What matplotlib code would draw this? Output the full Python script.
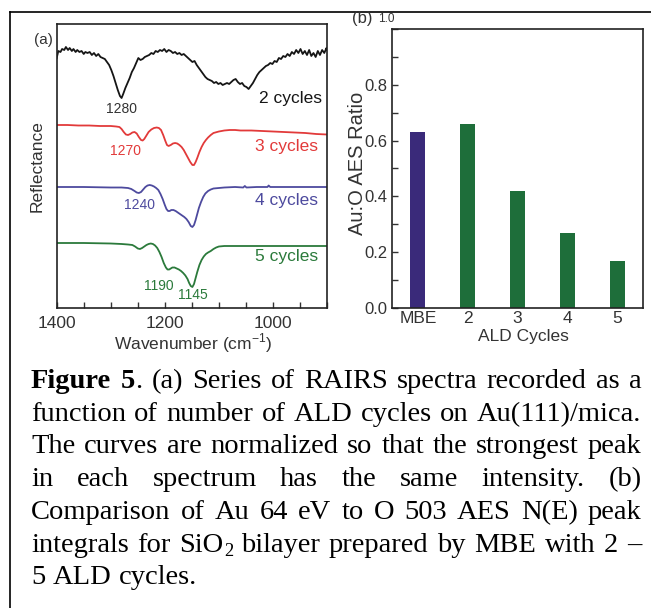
import matplotlib
matplotlib.use('Agg')
import matplotlib.pyplot as plt
from matplotlib.ticker import MultipleLocator, FixedLocator, FormatStrFormatter
from matplotlib.lines import Line2D
from matplotlib.transforms import IdentityTransform, ScaledTranslation

W, H = 651, 608
SANS = 'Liberation Sans'
SERIF = 'Liberation Serif'
plt.rcParams['font.family'] = [SANS, 'DejaVu Sans']
plt.rcParams['mathtext.fontset'] = 'custom'
plt.rcParams['mathtext.rm'] = SANS

# ---------------- data: panel (a) RAIRS spectra (reflectance, a.u., offset) -------------
wn_2 = [1400, 1397, 1393, 1390, 1386, 1383, 1379, 1376, 1372, 1369, 1365, 1362, 1358, 1354,
        1350, 1347, 1343, 1339, 1335, 1331, 1327, 1323, 1319, 1315, 1311, 1307, 1303, 1299,
        1295, 1291, 1287, 1283, 1280, 1277, 1273, 1269, 1265, 1261, 1257, 1253, 1249, 1245,
        1241, 1237, 1233, 1229, 1225, 1221, 1217, 1213, 1209, 1205, 1201, 1197, 1193, 1189,
        1185, 1181, 1177, 1173, 1169, 1165, 1161, 1157, 1153, 1149, 1145, 1141, 1137, 1133,
        1129, 1125, 1121, 1117, 1113, 1109, 1105, 1101, 1097, 1093, 1089, 1085, 1081, 1077,
        1073, 1069, 1065, 1061, 1057, 1053, 1049, 1045, 1041, 1037, 1033, 1029, 1025, 1021,
        1017, 1013, 1009, 1005, 1001, 997, 993, 989, 985, 981, 977, 973, 969, 965, 961, 957,
        953, 949, 945, 941, 937, 933, 929, 925, 921, 917, 913, 909, 905, 901, 900]
r_2 = [250, 257, 256, 259, 258, 261, 258, 260, 257, 259, 256, 258, 256, 257,
       254, 256, 255, 256, 253, 255, 252, 254, 251, 250, 249, 246, 243, 238,
       232, 225, 218, 212, 210, 214, 220, 225, 230, 236, 240, 245, 250, 248,
       249, 251, 252, 253, 255, 254, 257, 256, 258, 257, 259, 256, 258, 257,
       255, 256, 254, 255, 253, 254, 252, 250, 248, 246, 247, 243, 240, 237,
       234, 231, 229, 228, 227, 225, 226, 224, 225, 223, 224, 225, 224, 226,
       228, 229, 226, 224, 225, 222, 221, 219, 222, 225, 229, 233, 236, 238,
       240, 242, 243, 245, 244, 247, 246, 250, 249, 252, 251, 254, 252, 256, 254, 258,
       255, 259, 254, 257, 253, 258, 252, 255, 251, 257, 253, 258, 255, 260, 258]

wn_3 = [1400, 1380, 1360, 1340, 1320, 1300, 1290, 1284, 1280, 1276, 1272, 1268, 1264, 1260,
        1256, 1252, 1248, 1244, 1241, 1238, 1234, 1230, 1225, 1220, 1215, 1211, 1207, 1203,
        1199, 1196, 1193, 1189, 1185, 1181, 1177, 1173, 1169, 1165, 1161, 1157, 1153, 1149,
        1146, 1143, 1140, 1136, 1132, 1128, 1124, 1120, 1115, 1110, 1100, 1090, 1080, 1070,
        1060, 1040, 1020, 1000, 980, 960, 940, 920, 900]
r_3 = [183, 183, 182.5, 182.5, 182, 182, 181.5, 181, 179, 176, 173.5, 173, 174, 175.5,
       176, 174.5, 171, 168, 167.5, 169, 172.5, 176, 178.5, 180, 180.5, 180, 178, 173,
       167, 163, 162, 163, 164.5, 165, 164.5, 163, 161, 158, 154, 150, 146, 143,
       143, 146, 150, 156, 161, 165, 168, 170.5, 173, 175, 176.5, 177.5, 178, 178,
       177.5, 177.5, 177, 176.5, 176, 175.5, 175, 174, 173.5]

wn_4 = [1400, 1350, 1300, 1280, 1268, 1262, 1256, 1252, 1248, 1244, 1240, 1236, 1232, 1228,
        1224, 1220, 1216, 1212, 1208, 1204, 1200, 1197, 1194, 1191, 1188, 1184, 1180, 1176,
        1172, 1168, 1164, 1160, 1156, 1152, 1149, 1146, 1143, 1140, 1137, 1133, 1129, 1125,
        1120, 1115, 1110, 1100, 1090, 1070, 1055, 1052, 1049, 1030, 1010, 1008, 1005, 1000,
        950, 900]
r_4 = [121, 121, 120.5, 120.5, 120, 119, 117, 115.5, 115, 116, 118.5, 121, 122.5, 123,
       122.5, 121.5, 120, 118, 114, 109, 103, 99, 97, 97, 98, 98, 97, 95.5,
       94, 92.5, 91, 89, 86, 82, 81, 83, 88, 94, 100, 106, 111, 114.5,
       117, 118.5, 119.5, 120, 120.5, 121, 120.5, 122, 120.5, 121, 121, 122.5, 121, 121,
       121, 121]

wn_5 = [1400, 1350, 1300, 1280, 1268, 1260, 1255, 1250, 1246, 1242, 1238, 1234, 1230, 1226,
        1222, 1218, 1214, 1210, 1206, 1202, 1198, 1195, 1192, 1189, 1186, 1182, 1178, 1174,
        1170, 1166, 1162, 1158, 1155, 1152, 1149, 1146, 1143, 1140, 1136, 1132, 1128, 1124,
        1120, 1115, 1110, 1105, 1100, 1090, 1050, 1000, 950, 900]
r_5 = [65, 65, 64.5, 64, 63.5, 63, 61.5, 59.5, 59, 60, 61.5, 63, 64, 64.5,
       64, 62.5, 60, 56, 51, 45, 40.5, 38.5, 38.5, 39.5, 40.5, 40.5, 39.5, 38.5,
       37, 35, 32.5, 29, 25, 22, 21, 24, 30, 36, 43, 48, 51.5, 54,
       55.5, 57, 59, 60.5, 61.5, 62, 62, 62, 62, 62]

series_names = ['2 cycles', '3 cycles', '4 cycles', '5 cycles']
peak_labels = ['1280', '1270', '1240', '1190', '1145']
xticks_a = [1400, 1200, 1000]

# ---------------- data: panel (b) AES ratio -------------
bar_cats = ['MBE', '2', '3', '4', '5']
bar_vals = [0.63, 0.66, 0.42, 0.27, 0.17]

# ---------------- styles -------------
c_black = '#151515'
c_red = '#e23a3a'
c_blue = '#4d4a9e'
c_green = '#2b7a3b'
c_text = '#333333'
c_bar_mbe = '#3a2a7a'
c_bar_ald = '#1e6e3a'

fig = plt.figure(figsize=(W / 100, H / 100), dpi=100)

def px_axes(l, t, r, b):
    return fig.add_axes([l / W, 1 - b / H, (r - l) / W, (b - t) / H])

# ---------------- panel (a) -------------
ax = px_axes(56.7, 24, 327, 308)
ax.plot(wn_2, r_2, color=c_black, lw=1.3)
ax.plot(wn_3, r_3, color=c_red, lw=1.3)
ax.plot(wn_4, r_4, color=c_blue, lw=1.3)
ax.plot(wn_5, r_5, color=c_green, lw=1.3)
ax.set_xlim(1400, 900)
ax.set_ylim(0, 284)
ax.xaxis.set_major_locator(FixedLocator(xticks_a))
ax.xaxis.set_minor_locator(MultipleLocator(50))
ax.tick_params(axis='x', which='both', direction='in', length=4, width=1.0,
               labelsize=12.5, labelcolor=c_text, pad=6, color='#333333')
ax.set_yticks([])
for s in ax.spines.values():
    s.set_linewidth(1.2)
    s.set_color('#222222')
ax.set_xlabel('Wavenumber (cm$^{\\mathregular{-1}}$)', fontsize=12.5, color=c_text)
ax.xaxis.set_label_coords(0.504, -0.123)
ax.xaxis.label.set_va('center')
ax.set_ylabel('Reflectance', fontsize=12.5, color=c_text)
ax.yaxis.set_label_coords(-0.073, 0.5)
ax.yaxis.label.set_va('center')

fs_name = 12.5
fs_peak = 10
ax.text(909, 210, series_names[0], color=c_black, fontsize=fs_name, ha='right', va='center')
ax.text(916, 161, series_names[1], color=c_red, fontsize=fs_name, ha='right', va='center')
ax.text(916, 108, series_names[2], color=c_blue, fontsize=fs_name, ha='right', va='center')
ax.text(916, 51, series_names[3], color=c_green, fontsize=fs_name, ha='right', va='center')
ax.text(1281, 199, peak_labels[0], color=c_text, fontsize=fs_peak, ha='center', va='center')
ax.text(1272, 157, peak_labels[1], color=c_red, fontsize=fs_peak, ha='center', va='center')
ax.text(1246, 103, peak_labels[2], color=c_blue, fontsize=fs_peak, ha='center', va='center')
ax.text(1212, 22, peak_labels[3], color=c_green, fontsize=fs_peak, ha='center', va='center')
ax.text(1149, 13, peak_labels[4], color=c_green, fontsize=fs_peak, ha='center', va='center')

fig.text(43 / W, 1 - 40 / H, '(a)', fontsize=11, color=c_text, ha='center', va='center')

# ---------------- panel (b) -------------
bx = px_axes(392, 29, 643, 308)
xpos = list(range(len(bar_cats)))
bx.bar(xpos, bar_vals, width=0.3, color=[c_bar_mbe] + [c_bar_ald] * 4)
bx.set_xlim(-0.52, 4.52)
bx.set_ylim(0, 1.0)
bx.set_xticks(xpos)
bx.set_xticklabels(bar_cats)
bx.yaxis.set_major_locator(MultipleLocator(0.2))
bx.yaxis.set_minor_locator(MultipleLocator(0.1))
bx.yaxis.set_major_formatter(FormatStrFormatter('%.1f'))
bx.tick_params(axis='y', which='both', direction='in', length=4, width=1.0,
               labelsize=12, labelcolor=c_text, pad=3, color='#333333')
bx.tick_params(axis='x', length=0, labelsize=12.5, labelcolor=c_text, pad=2.5)
for s in bx.spines.values():
    s.set_linewidth(1.2)
    s.set_color('#222222')
bx.set_ylabel('Au:O AES Ratio', fontsize=14.5, color=c_text)
bx.yaxis.set_label_coords(-0.139, 0.52)
bx.yaxis.label.set_va('center')
bx.set_xlabel('ALD Cycles', fontsize=12.5, color=c_text)
bx.xaxis.set_label_coords(0.522, -0.118)
bx.xaxis.label.set_va('baseline')
fig.text(362 / W, 1 - 18 / H, '(b)', fontsize=12, color=c_text, ha='center', va='center')

# the top "1.0" tick label is drawn smaller and raised in the reference
fig.canvas.draw()
for lab in bx.get_yticklabels():
    if lab.get_text() == '1.0':
        lab.set_fontsize(8.5)
        lab.set_transform(lab.get_transform()
                          + ScaledTranslation(5 / 72, 8 / 72, fig.dpi_scale_trans))

# ---------------- frame -------------
fig.add_artist(Line2D([10 / W, 10 / W], [0, 1 - 12 / H], color='black', lw=1.2,
                      transform=fig.transFigure))
fig.add_artist(Line2D([10 / W, 1], [1 - 12 / H, 1 - 12 / H], color='black', lw=1.2,
                      transform=fig.transFigure))

# ---------------- caption (justified) -------------
N, B = 'normal', 'bold'
caption = [
    [[('Figure', B)], [('5', B), ('.', N)], '(a)', 'Series', 'of', 'RAIRS', 'spectra',
     'recorded', 'as', 'a'],
    'function of number of ALD cycles on Au(111)/mica.'.split(),
    'The curves are normalized so that the strongest peak'.split(),
    'in each spectrum has the same intensity. (b)'.split(),
    'Comparison of Au 64 eV to O 503 AES N(E) peak'.split(),
    ['integrals', 'for', [('SiO', N), ('2', 'sub')], 'bilayer', 'prepared', 'by', 'MBE',
     'with', '2', '\u2013'],
    '5 ALD cycles.'.split(),
]
cap_size = 20.5
x_left, x_right = 31, 642
base0, lstep = 388, 32.7

renderer = fig.canvas.get_renderer()
for li, words in enumerate(caption):
    yb = H - (base0 + li * lstep)
    items = []
    widths = []
    for w in words:
        segs = [(w, N)] if isinstance(w, str) else w
        off = 0.0
        placed = []
        for txt, kind in segs:
            size = cap_size * (0.65 if kind == 'sub' else 1.0)
            weight = 'bold' if kind == B else 'normal'
            t = fig.text(0, 0, txt, fontsize=size, fontweight=weight, family=SERIF,
                         ha='left', va='baseline', color='black',
                         transform=IdentityTransform())
            bb = t.get_window_extent(renderer)
            dy = -5 if kind == 'sub' else 0
            placed.append((t, off, dy))
            off += bb.width + (0.5 if kind != 'sub' else 0)
        items.append(placed)
        widths.append(off)
    total = sum(widths)
    n = len(words)
    if li == len(caption) - 1:
        gap = cap_size * 100 / 72 * 0.25
    else:
        gap = (x_right - x_left - total) / (n - 1)
    x = x_left
    for placed, wd in zip(items, widths):
        for t, off, dy in placed:
            t.set_position((x + off, yb + dy))
        x += wd + gap

fig.savefig('out.png', dpi=100)
